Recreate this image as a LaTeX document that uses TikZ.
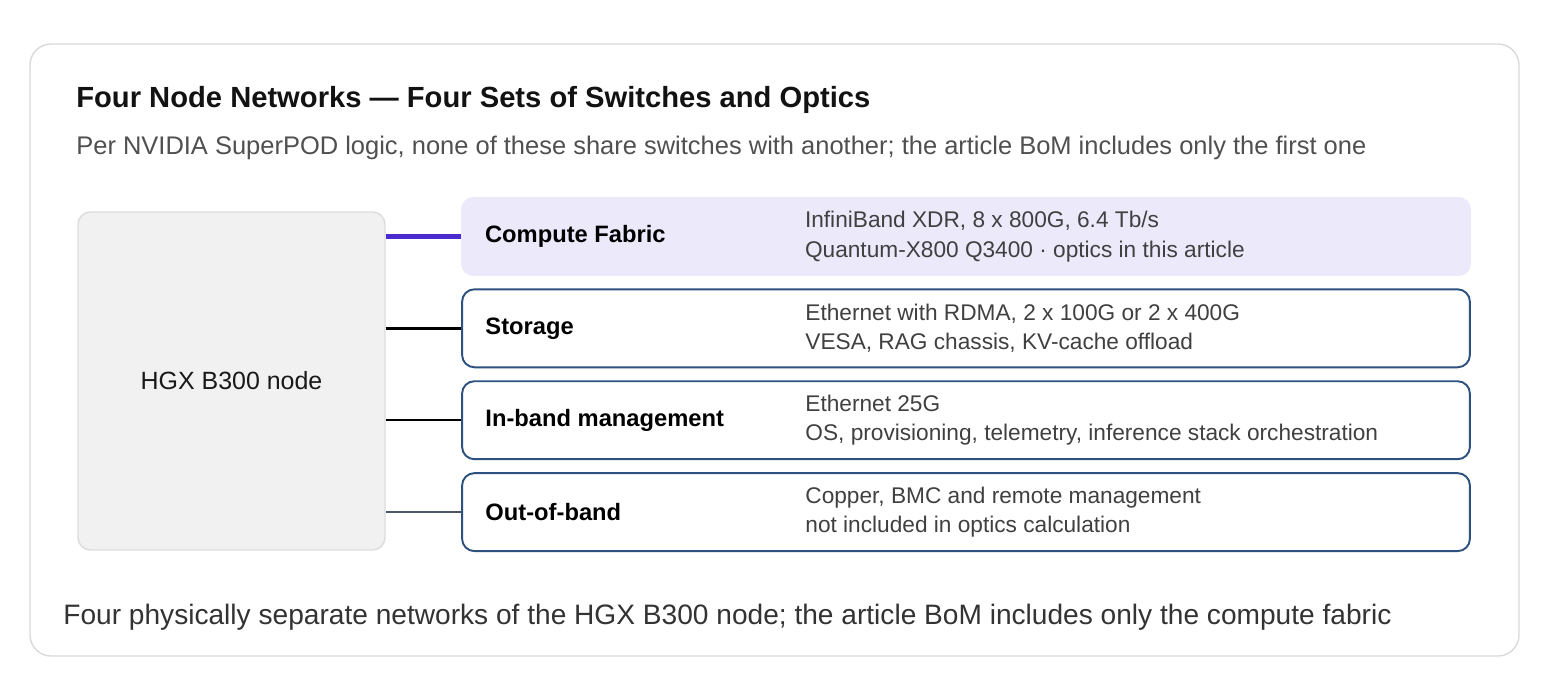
\documentclass[tikz,border=0pt]{standalone}
\usepackage{fontspec}
\setmainfont{Liberation Sans}
\usetikzlibrary{positioning}

\definecolor{cardline}{HTML}{DADADA}
\definecolor{hostfill}{HTML}{F1F1F1}
\definecolor{hostline}{HTML}{DCDCDC}
\definecolor{fabricfill}{HTML}{ECE9FB}
\definecolor{fabricwire}{HTML}{4A2BD0}
\definecolor{rowline}{HTML}{2E527F}
\definecolor{oobwire}{HTML}{4B5563}
\definecolor{subgray}{HTML}{505050}
\definecolor{descgray}{HTML}{404040}

\begin{document}
\begin{tikzpicture}[x=0.02cm, y=-0.02cm]
	\tikzset {node distance=0.24cm,
		card/.style={draw=cardline, line width=0.8pt, rounded corners=12pt, fill=white},
		host/.style={draw=hostline, line width=0.8pt, fill=hostfill, rounded corners=7pt, minimum width=6.14cm, minimum height=6.76cm, font=\fontsize{14.2}{16}\selectfont, text=black!90},
		fabric/.style={fill=fabricfill, rounded corners=7pt, minimum width=20.2cm, minimum height=1.58cm},
		net/.style={draw=rowline, line width=1.1pt, fill=white, rounded corners=7pt, minimum width=20.16cm, minimum height=1.56cm},
		rowlabel/.style={font=\fontsize{13.5}{15}\selectfont\bfseries, text=black, inner sep=0pt},
		rowtext/.style={font=\fontsize{12.9}{16.8}\selectfont, text=descgray, align=left, inner sep=0pt},
		wire/.style={line width=1.4pt}
	}

	\useasboundingbox (0,0) rectangle (1568,688);
	\draw[card] (30,44) rectangle (1519,656);

	\node[anchor=west, inner sep=0pt, font=\fontsize{16.6}{19}\selectfont\bfseries, text=black!93] (title) at (76,100) {Four Node Networks — Four Sets of Switches and Optics};
	\node[anchor=west, inner sep=0pt, font=\fontsize{14.5}{17}\selectfont, text=subgray] (subtitle) at (76,148) {Per NVIDIA SuperPOD logic, none of these share switches with another; the article BoM includes only the first one};

	\node[host] (host) at (231.5,381) {HGX B300 node};

	\node[fabric] (compute) at (966,236.5) {};
	\node[net, below=of compute] (storage) {};
	\node[net, below=of storage] (inband) {};
	\node[net, below=of inband] (oob) {};

	\node[rowlabel, right=0.48cm of compute.west] (computelabel) {Compute Fabric};
	\node[rowlabel, right=0.48cm of storage.west] (storagelabel) {Storage};
	\node[rowlabel, right=0.48cm of inband.west] (inbandlabel) {In-band management};
	\node[rowlabel, right=0.48cm of oob.west] (ooblabel) {Out-of-band};

	\node[rowtext, right=6.88cm of compute.west] (computetext) {InfiniBand XDR, 8 x 800G, 6.4 Tb/s\\Quantum-X800 Q3400 · optics in this article};
	\node[rowtext, right=6.88cm of storage.west] (storagetext) {Ethernet with RDMA, 2 x 100G or 2 x 400G\\VESA, RAG chassis, KV-cache offload};
	\node[rowtext, right=6.88cm of inband.west] (inbandtext) {Ethernet 25G\\OS, provisioning, telemetry, inference stack orchestration};
	\node[rowtext, right=6.88cm of oob.west] (oobtext) {Copper, BMC and remote management\\not included in optics calculation};

	\draw[wire, fabricwire, line width=2.4pt] (host.east |- compute.west) -- (compute.west);
	\draw[wire, black] (host.east |- storage.west) -- (storage.west);
	\draw[wire, black] (host.east |- inband.west) -- (inband.west);
	\draw[wire, oobwire] (host.east |- oob.west) -- (oob.west);

	\node[anchor=west, inner sep=0pt, font=\fontsize{16}{19}\selectfont, text=black!80] (caption) at (63,617) {Four physically separate networks of the HGX B300 node; the article BoM includes only the compute fabric};
\end{tikzpicture}
\end{document}
